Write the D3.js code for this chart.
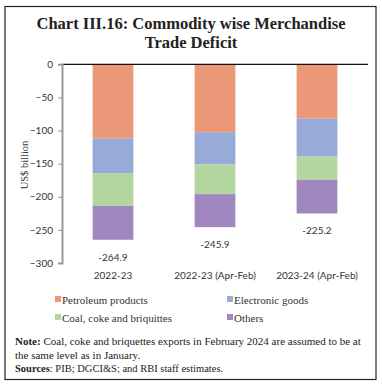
<!DOCTYPE html>
<html><head><meta charset="utf-8">
<script src="https://cdn.jsdelivr.net/npm/d3@7"></script>
<style>body{margin:0;background:#fff}</style>
</head><body>
<script>
const categories = ["2022-23", "2022-23 (Apr-Feb)", "2023-24 (Apr-Feb)"];
const seriesNames = ["Petroleum products", "Electronic goods", "Coal, coke and briquittes", "Others"];
const petroleum = [-111.8, -102.5, -82.0];
const electronic = [-52.5, -48.3, -57.3];
const coal = [-49.4, -45.2, -35.1];
const others = [-51.2, -49.9, -50.8];
const totals = [-264.9, -245.9, -225.2];
const yTicks = [0, -50, -100, -150, -200, -250, -300];
const colors = ["#EA9877", "#98AAD7", "#B3D6A0", "#A087C0"];

const W = 382, H = 385;
const svg = d3.select("body").append("svg").attr("width", W).attr("height", H);
svg.append("rect").attr("x", 5).attr("y", 6.5).attr("width", 371).attr("height", 373)
  .attr("fill", "none").attr("stroke", "#222").attr("stroke-width", 1.2);

const serif = "'Liberation Serif', 'DejaVu Serif', serif";
const sans = "Lato, 'Open Sans', sans-serif";

svg.append("text").attr("x", 191).attr("y", 29).attr("text-anchor", "middle")
  .attr("font-family", serif).attr("font-weight", "bold").attr("font-size", 16.5).attr("fill", "#222")
  .text("Chart III.16: Commodity wise Merchandise");
svg.append("text").attr("x", 191).attr("y", 48).attr("text-anchor", "middle")
  .attr("font-family", serif).attr("font-weight", "bold").attr("font-size", 16.5).attr("fill", "#222")
  .text("Trade Deficit");

const x = d3.scaleBand().domain(categories).range([62, 368]).paddingInner(0.6).paddingOuter(0.3);
const y = d3.scaleLinear().domain([-300, 0]).range([263, 64.3]);

const series = [petroleum, electronic, coal, others];
const g = svg.append("g");
categories.forEach((c, i) => {
  let cum = 0;
  series.forEach((s, k) => {
    const top = cum, bot = cum + s[i];
    g.append("rect").attr("x", x(c)).attr("width", x.bandwidth())
      .attr("y", y(top)).attr("height", y(bot) - y(top)).attr("fill", colors[k]);
    cum = bot;
  });
  g.append("text").attr("x", x(c) + x.bandwidth() / 2).attr("y", y(totals[i]) + 21)
    .attr("text-anchor", "middle").attr("font-family", sans).attr("font-size", 10).attr("fill", "#333")
    .text(totals[i].toFixed(1));
  g.append("text").attr("x", x(c) + x.bandwidth() / 2).attr("y", 279)
    .attr("text-anchor", "middle").attr("font-family", sans).attr("font-size", 10).attr("fill", "#333")
    .text(c);
});

// zero line
svg.append("line").attr("x1", 62).attr("x2", 368).attr("y1", y(0)).attr("y2", y(0))
  .attr("stroke", "#111").attr("stroke-width", 1.2);

const yAxis = svg.append("g").attr("transform", "translate(62,0)")
  .call(d3.axisLeft(y).tickValues(yTicks).tickSize(4).tickPadding(5).tickFormat(d3.format("d")));
yAxis.select(".domain").attr("stroke", "#999").attr("stroke-width", 2);
yAxis.selectAll(".tick line").attr("stroke", "#999");
yAxis.selectAll("text").attr("font-family", sans).attr("font-size", 10).attr("fill", "#333");

svg.append("text").attr("transform", "translate(28,165) rotate(-90)").attr("text-anchor", "middle")
  .attr("font-family", serif).attr("font-size", 10.5).attr("fill", "#333").text("US$ billion");

const legPos = [[55, 300], [227, 300], [55, 318], [227, 318]];
seriesNames.forEach((n, k) => {
  svg.append("rect").attr("x", legPos[k][0]).attr("y", legPos[k][1] - 4).attr("width", 6).attr("height", 6).attr("fill", colors[k]);
  svg.append("text").attr("x", legPos[k][0] + 7).attr("y", legPos[k][1] + 3.5)
    .attr("font-family", serif).attr("font-size", 11).attr("fill", "#333").text(n);
});

const note = svg.append("text").attr("x", 15).attr("y", 345).attr("font-family", serif).attr("font-size", 11).attr("fill", "#222");
note.append("tspan").attr("font-weight", "bold").text("Note:");
note.append("tspan").text("  Coal, coke and briquettes exports in February 2024 are assumed to be at");
svg.append("text").attr("x", 15).attr("y", 359).attr("font-family", serif).attr("font-size", 11).attr("fill", "#222")
  .text("the same level as in January.");
const src = svg.append("text").attr("x", 15).attr("y", 372).attr("font-family", serif).attr("font-size", 10.5).attr("fill", "#222");
src.append("tspan").attr("font-weight", "bold").text("Sources");
src.append("tspan").text(": PIB; DGCI&S; and RBI staff estimates.");
</script>
</body></html>
